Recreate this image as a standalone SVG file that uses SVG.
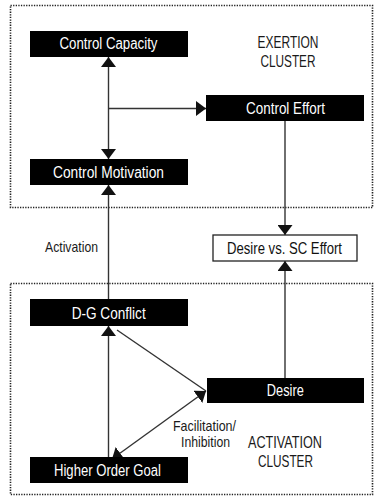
<svg xmlns="http://www.w3.org/2000/svg" width="377" height="498" viewBox="0 0 377 498">
<style>
.bg{fill:#fff}
.cluster{fill:none;stroke:#222;stroke-width:1.6;stroke-dasharray:1.3 1.3}
.node{fill:#000}
.nodew{fill:#fff;stroke:#222;stroke-width:1.3}
.nt{font-family:"Liberation Sans",Arial,sans-serif;font-size:16px;fill:#fff;text-anchor:middle}
.ntd{font-family:"Liberation Sans",Arial,sans-serif;font-size:16px;fill:#111;text-anchor:middle}
.lbl{font-family:"Liberation Sans",Arial,sans-serif;font-size:15px;fill:#1a1a1a;text-anchor:middle}
.cl{font-family:"Liberation Sans",Arial,sans-serif;font-size:17px;fill:#1a1a1a;text-anchor:middle}
.edge{fill:none;stroke:#333;stroke-width:1.4}
</style>
<defs>
<marker id="ah" viewBox="0 0 10 15" refX="10" refY="7.5" markerWidth="10" markerHeight="15" markerUnits="userSpaceOnUse" orient="auto-start-reverse">
<path d="M0,0 L10,7.5 L0,15 z" fill="#111"/>
</marker>
</defs>
<rect class="bg" x="0" y="0" width="377" height="498"/>
<g id="clusters">
<rect class="cluster" x="10.5" y="5.5" width="362" height="202"/>
<rect class="cluster" x="10.5" y="283.5" width="362" height="211"/>
<text class="cl" x="288" y="48" textLength="61" lengthAdjust="spacingAndGlyphs">EXERTION</text>
<text class="cl" x="288" y="67" textLength="55" lengthAdjust="spacingAndGlyphs">CLUSTER</text>
<text class="cl" x="285" y="448" textLength="74" lengthAdjust="spacingAndGlyphs">ACTIVATION</text>
<text class="cl" x="285.5" y="467" textLength="55" lengthAdjust="spacingAndGlyphs">CLUSTER</text>
</g>
<g id="connectors">
<line class="edge" x1="108.5" y1="57" x2="108.5" y2="159" marker-start="url(#ah)" marker-end="url(#ah)"/>
<line class="edge" x1="108.5" y1="108.5" x2="206" y2="108.5" marker-end="url(#ah)"/>
<line class="edge" x1="108.5" y1="299" x2="108.5" y2="185" marker-end="url(#ah)"/>
<line class="edge" x1="108.5" y1="457" x2="108.5" y2="326" marker-end="url(#ah)"/>
<line class="edge" x1="285" y1="121" x2="285" y2="235" marker-end="url(#ah)"/>
<line class="edge" x1="285" y1="378" x2="285" y2="261" marker-end="url(#ah)"/>
<line class="edge" x1="117" y1="330" x2="206" y2="391"/>
<line class="edge" x1="112" y1="459" x2="206" y2="391" marker-start="url(#ah)" marker-end="url(#ah)"/>
<text class="lbl" x="71.5" y="252" textLength="53" lengthAdjust="spacingAndGlyphs">Activation</text>
<text class="lbl" x="204.5" y="431" textLength="63" lengthAdjust="spacingAndGlyphs">Facilitation/</text>
<text class="lbl" x="205.5" y="447" textLength="49" lengthAdjust="spacingAndGlyphs">Inhibition</text>
</g>
<g id="control-capacity">
<rect class="node" x="30" y="31" width="158" height="26"/>
<text class="nt" x="108.5" y="49" textLength="98" lengthAdjust="spacingAndGlyphs">Control Capacity</text>
</g>
<g id="control-effort">
<rect class="node" x="206" y="95" width="158" height="26"/>
<text class="nt" x="285.5" y="113.5" textLength="79" lengthAdjust="spacingAndGlyphs">Control Effort</text>
</g>
<g id="control-motivation">
<rect class="node" x="30" y="159" width="158" height="26"/>
<text class="nt" x="108.5" y="177.5" textLength="111" lengthAdjust="spacingAndGlyphs">Control Motivation</text>
</g>
<g id="desire-vs-sc-effort">
<rect class="nodew" x="213" y="235" width="144" height="26"/>
<text class="ntd" x="284.5" y="254" textLength="115" lengthAdjust="spacingAndGlyphs">Desire vs. SC Effort</text>
</g>
<g id="dg-conflict">
<rect class="node" x="30" y="299" width="158" height="27"/>
<text class="nt" x="108.7" y="318.5" textLength="74" lengthAdjust="spacingAndGlyphs">D-G Conflict</text>
</g>
<g id="desire">
<rect class="node" x="207" y="378" width="157" height="25"/>
<text class="nt" x="285.3" y="396" textLength="37" lengthAdjust="spacingAndGlyphs">Desire</text>
</g>
<g id="higher-order-goal">
<rect class="node" x="30" y="457" width="158" height="26"/>
<text class="nt" x="107.5" y="476" textLength="107" lengthAdjust="spacingAndGlyphs">Higher Order Goal</text>
</g>
</svg>
